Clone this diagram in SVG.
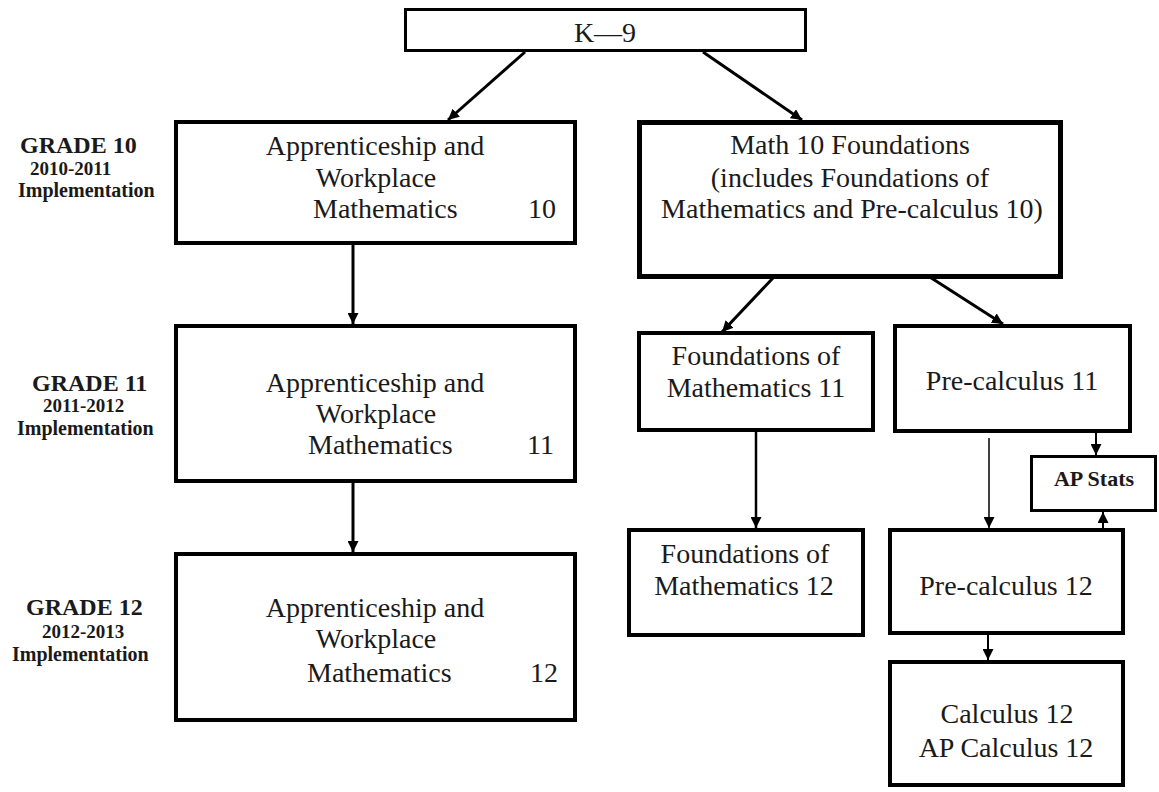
<svg xmlns="http://www.w3.org/2000/svg" width="1159" height="792" viewBox="0 0 1159 792">
<defs>
<style>
.box{fill:#fff;stroke:#000;stroke-width:4}
.t{font-family:"Liberation Serif","Times New Roman",serif;font-size:28px;fill:#1a1a1a}
.c{text-anchor:middle}
.lbl{font-family:"Liberation Serif","Times New Roman",serif;font-weight:bold;fill:#1a1a1a}
.g{font-size:24px}
.s{font-size:19px}
.i{font-size:20px}
.ap{font-family:"Liberation Serif","Times New Roman",serif;font-weight:bold;font-size:22px;fill:#1a1a1a;text-anchor:middle}
.ln{stroke:#000;fill:none;marker-end:url(#ah)}
</style>
<marker id="ah" viewBox="0 0 10 10" refX="10" refY="5" markerWidth="11" markerHeight="11" markerUnits="userSpaceOnUse" orient="auto">
<path d="M0,0 L10,5 L0,10 z" fill="#000"/>
</marker>
</defs>
<rect width="1159" height="792" fill="#fff"/>

<g id="labels">
<text class="lbl g" x="20" y="153">GRADE 10</text>
<text class="lbl s" x="30" y="175">2010-2011</text>
<text class="lbl i" x="18" y="197">Implementation</text>
<text class="lbl g" x="32" y="391">GRADE 11</text>
<text class="lbl s" x="43" y="412">2011-2012</text>
<text class="lbl i" x="17" y="435">Implementation</text>
<text class="lbl g" x="26" y="615">GRADE 12</text>
<text class="lbl s" x="42" y="638">2012-2013</text>
<text class="lbl i" x="12" y="661">Implementation</text>
</g>

<g id="connectors">
<line class="ln" x1="525" y1="52" x2="448" y2="120" stroke-width="3"/>
<line class="ln" x1="703" y1="52" x2="802" y2="120" stroke-width="3"/>
<line class="ln" x1="353" y1="245" x2="353" y2="324" stroke-width="3"/>
<line class="ln" x1="353" y1="483" x2="353" y2="552" stroke-width="3"/>
<line class="ln" x1="773" y1="278" x2="722" y2="332" stroke-width="3"/>
<line class="ln" x1="922" y1="272" x2="1003" y2="324" stroke-width="3"/>
<line class="ln" x1="756" y1="432" x2="756" y2="528" stroke-width="2.5"/>
<line class="ln" x1="989" y1="438" x2="989" y2="528" stroke-width="1.5"/>
<line class="ln" x1="1096" y1="433" x2="1096" y2="455" stroke-width="2"/>
<line class="ln" x1="1103" y1="528" x2="1103" y2="512" stroke-width="2"/>
<line class="ln" x1="988" y1="635" x2="988" y2="660" stroke-width="2"/>
</g>

<g id="k9">
<rect class="box" x="405.5" y="9.5" width="400" height="41" style="stroke-width:3"/>
<text class="t c" x="605" y="42">K—9</text>
</g>

<g id="app10">
<rect class="box" x="176" y="122" width="399" height="121"/>
<text class="t c" x="375" y="155">Apprenticeship and</text>
<text class="t c" x="376" y="187">Workplace</text>
<text class="t" x="313" y="218">Mathematics</text>
<text class="t" x="528" y="218">10</text>
</g>

<g id="math10">
<rect class="box" x="639.5" y="122.5" width="421" height="154" style="stroke-width:5"/>
<text class="t c" x="850" y="154">Math 10 Foundations</text>
<text class="t c" x="850" y="187">(includes Foundations of</text>
<text class="t c" x="852" y="218">Mathematics and Pre-calculus 10)</text>
</g>

<g id="app11">
<rect class="box" x="176" y="326" width="399" height="155"/>
<text class="t c" x="375" y="392">Apprenticeship and</text>
<text class="t c" x="376" y="423">Workplace</text>
<text class="t" x="308" y="454">Mathematics</text>
<text class="t" x="527" y="454">11</text>
</g>

<g id="app12">
<rect class="box" x="176" y="554" width="399" height="166"/>
<text class="t c" x="375" y="617">Apprenticeship and</text>
<text class="t c" x="376" y="648">Workplace</text>
<text class="t" x="307" y="682">Mathematics</text>
<text class="t" x="530" y="682">12</text>
</g>

<g id="found11">
<rect class="box" x="639" y="333" width="234" height="97"/>
<text class="t c" x="756" y="365">Foundations of</text>
<text class="t c" x="756" y="397">Mathematics 11</text>
</g>

<g id="precalc11">
<rect class="box" x="895" y="326" width="235" height="105"/>
<text class="t c" x="1012" y="390">Pre-calculus 11</text>
</g>

<g id="apstats">
<rect class="box" x="1031.5" y="456.5" width="124" height="54" style="stroke-width:3"/>
<text class="ap" x="1094" y="486">AP Stats</text>
</g>

<g id="found12">
<rect class="box" x="629" y="530" width="234" height="105"/>
<text class="t c" x="745" y="563">Foundations of</text>
<text class="t c" x="744" y="595">Mathematics 12</text>
</g>

<g id="precalc12">
<rect class="box" x="890" y="530" width="233" height="103"/>
<text class="t c" x="1006" y="595">Pre-calculus 12</text>
</g>

<g id="calc12">
<rect class="box" x="890" y="662" width="233" height="123"/>
<text class="t c" x="1007" y="723">Calculus 12</text>
<text class="t c" x="1006" y="757">AP Calculus 12</text>
</g>
</svg>
